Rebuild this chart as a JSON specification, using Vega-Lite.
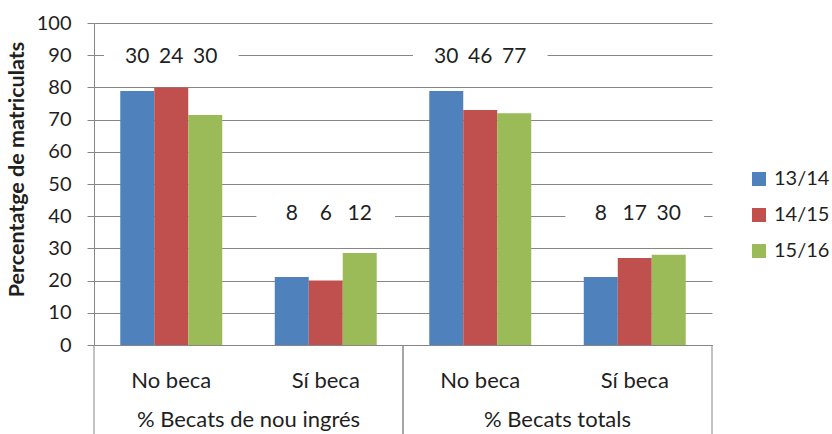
{
  "$schema": "https://vega.github.io/schema/vega-lite/v6.json",
  "width": 618,
  "height": 322,
  "autosize": {"type": "none"},
  "padding": {"left": 94, "top": 23, "right": 120, "bottom": 89},
  "background": "white",
  "config": {
    "font": "Lato",
    "view": {"stroke": null},
    "axisY": {
      "tickCount": 10,
      "labelOverlap": false,
      "titleFontSize": 21.5,
      "titleFontWeight": "bold",
      "titleColor": "#1f1f1f",
      "titlePadding": 8,
      "titleY": 146,
      "grid": true,
      "gridColor": "#868686",
      "domainColor": "#868686",
      "tickColor": "#868686",
      "tickSize": 7,
      "labelFontSize": 20,
      "labelColor": "#1f1f1f",
      "labelPadding": 16
    },
    "legend": {
      "orient": "none",
      "legendX": 655,
      "legendY": 146,
      "title": null,
      "symbolType": "square",
      "symbolSize": 196,
      "symbolStrokeWidth": 0,
      "labelFontSize": 20,
      "labelColor": "#1f1f1f",
      "labelOffset": 5,
      "rowPadding": 16,
      "padding": 0
    }
  },
  "data": {
    "values": [
      {"grup": "% Becats de nou ingrés", "beca": "No beca", "curs": "13/14", "pct": 78.9, "n": 30},
      {"grup": "% Becats de nou ingrés", "beca": "No beca", "curs": "14/15", "pct": 80.0, "n": 24},
      {"grup": "% Becats de nou ingrés", "beca": "No beca", "curs": "15/16", "pct": 71.4, "n": 30},
      {"grup": "% Becats de nou ingrés", "beca": "Sí beca", "curs": "13/14", "pct": 21.1, "n": 8},
      {"grup": "% Becats de nou ingrés", "beca": "Sí beca", "curs": "14/15", "pct": 20.0, "n": 6},
      {"grup": "% Becats de nou ingrés", "beca": "Sí beca", "curs": "15/16", "pct": 28.6, "n": 12},
      {"grup": "% Becats totals", "beca": "No beca", "curs": "13/14", "pct": 78.9, "n": 30},
      {"grup": "% Becats totals", "beca": "No beca", "curs": "14/15", "pct": 73.0, "n": 46},
      {"grup": "% Becats totals", "beca": "No beca", "curs": "15/16", "pct": 72.0, "n": 77},
      {"grup": "% Becats totals", "beca": "Sí beca", "curs": "13/14", "pct": 21.1, "n": 8},
      {"grup": "% Becats totals", "beca": "Sí beca", "curs": "14/15", "pct": 27.0, "n": 17},
      {"grup": "% Becats totals", "beca": "Sí beca", "curs": "15/16", "pct": 28.0, "n": 30}
    ]
  },
  "transform": [{"calculate": "datum.grup + '|' + datum.beca", "as": "cat"}],
  "layer": [
    {
      "layer": [
        {
          "mark": {"type": "bar"},
          "encoding": {
            "x": {
              "field": "cat", "type": "nominal", "sort": null,
              "scale": {"domain": ["% Becats de nou ingrés|No beca", "% Becats de nou ingrés|Sí beca", "% Becats totals|No beca", "% Becats totals|Sí beca"], "paddingInner": 0.34, "paddingOuter": 0.17},
              "axis": {
                "title": null,
                "labelExpr": "split(datum.label, '|')[1]",
                "labelAngle": 0,
                "ticks": false,
                "domain": true,
                "domainColor": "#868686",
                "labelFontSize": 22,
                "labelColor": "#1f1f1f",
                "labelPadding": 25
              }
            },
            "xOffset": {"field": "curs", "type": "nominal", "sort": null},
            "y": {
              "field": "pct", "type": "quantitative",
              "scale": {"domain": [0, 100], "nice": false},
              "axis": {"title": "Percentatge de matriculats"}
            },
            "color": {
              "field": "curs", "type": "nominal", "sort": null,
              "scale": {"domain": ["13/14", "14/15", "15/16"], "range": ["#4F81BD", "#C0504D", "#9BBB59"]}
            }
          }
        },
        {
          "transform": [{"filter": "datum.beca == 'No beca'"}, {"aggregate": [{"op": "count", "as": "k"}], "groupby": ["cat"]}],
          "mark": {"type": "bar", "color": "white", "width": {"band": 1.32}},
          "encoding": {
            "x": {"field": "cat", "type": "nominal", "sort": null, "scale": {"domain": ["% Becats de nou ingrés|No beca", "% Becats de nou ingrés|Sí beca", "% Becats totals|No beca", "% Becats totals|Sí beca"]}},
            "y": {"datum": 86},
            "y2": {"datum": 94}
          }
        },
        {
          "transform": [{"filter": "datum.beca == 'Sí beca'"}, {"aggregate": [{"op": "count", "as": "k"}], "groupby": ["cat"]}],
          "mark": {"type": "bar", "color": "white", "width": {"band": 1.36}},
          "encoding": {
            "x": {"field": "cat", "type": "nominal", "sort": null, "scale": {"domain": ["% Becats de nou ingrés|No beca", "% Becats de nou ingrés|Sí beca", "% Becats totals|No beca", "% Becats totals|Sí beca"]}},
            "y": {"datum": 36},
            "y2": {"datum": 44}
          }
        },
        {
          "transform": [{"filter": "datum.beca == 'No beca'"}],
          "mark": {"type": "text", "fontSize": 21, "baseline": "middle", "color": "#1f1f1f"},
          "encoding": {
            "x": {"field": "cat", "type": "nominal", "sort": null, "scale": {"domain": ["% Becats de nou ingrés|No beca", "% Becats de nou ingrés|Sí beca", "% Becats totals|No beca", "% Becats totals|Sí beca"]}},
            "xOffset": {"field": "curs", "type": "nominal", "sort": null},
            "y": {"datum": 89.3},
            "text": {"field": "n"}
          }
        },
        {
          "transform": [{"filter": "datum.beca == 'Sí beca'"}],
          "mark": {"type": "text", "fontSize": 21, "baseline": "middle", "color": "#1f1f1f"},
          "encoding": {
            "x": {"field": "cat", "type": "nominal", "sort": null, "scale": {"domain": ["% Becats de nou ingrés|No beca", "% Becats de nou ingrés|Sí beca", "% Becats totals|No beca", "% Becats totals|Sí beca"]}},
            "xOffset": {"field": "curs", "type": "nominal", "sort": null},
            "y": {"datum": 40.8},
            "text": {"field": "n"}
          }
        }
      ]
    },
    {
      "transform": [{"aggregate": [{"op": "count", "as": "k"}], "groupby": ["grup"]}],
      "layer": [
        {
          "mark": {"type": "rule", "color": "#868686", "strokeWidth": 1},
          "encoding": {
            "x": {"field": "grup", "type": "nominal", "bandPosition": 0, "scale": {"domain": ["% Becats de nou ingrés", "% Becats totals"], "paddingInner": 0, "paddingOuter": 0}, "axis": null},
            "y": {"datum": 0},
            "y2": {"datum": -40}
          }
        },
        {
          "mark": {"type": "rule", "color": "#868686", "strokeWidth": 1},
          "encoding": {
            "x": {"field": "grup", "type": "nominal", "bandPosition": 1, "scale": {"domain": ["% Becats de nou ingrés", "% Becats totals"], "paddingInner": 0, "paddingOuter": 0}, "axis": null},
            "y": {"datum": 0},
            "y2": {"datum": -40}
          }
        },
        {
          "mark": {"type": "text", "fontSize": 22, "baseline": "middle", "color": "#1f1f1f"},
          "encoding": {
            "x": {"field": "grup", "type": "nominal", "bandPosition": 0.5, "scale": {"domain": ["% Becats de nou ingrés", "% Becats totals"], "paddingInner": 0, "paddingOuter": 0}, "axis": null},
            "y": {"datum": -23.2},
            "text": {"field": "grup"}
          }
        }
      ]
    }
  ],
  "resolve": {"scale": {"x": "independent"}}
}
